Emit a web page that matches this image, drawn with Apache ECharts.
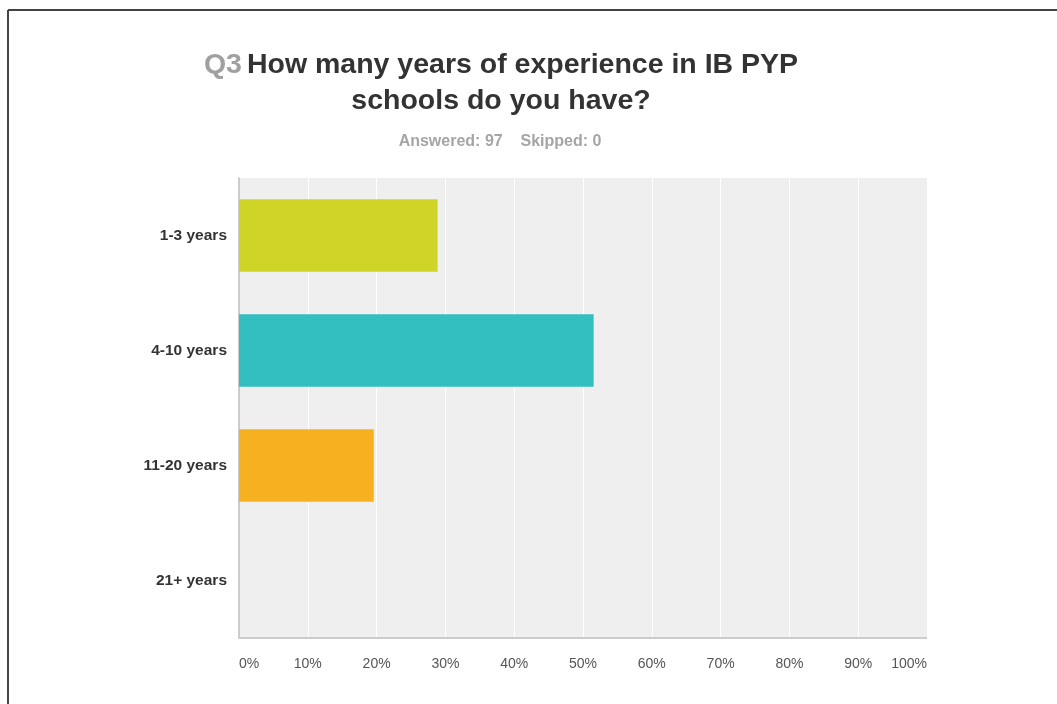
<!DOCTYPE html>
<html>
<head>
<meta charset="utf-8">
<style>
html,body{margin:0;padding:0;background:#fff;}
#chart{width:1057px;height:704px;}
</style>
<script src="https://cdn.jsdelivr.net/npm/echarts@6/dist/echarts.min.js"></script>
</head>
<body>
<div id="chart"></div>
<script>
var categories = ['1-3 years', '4-10 years', '11-20 years', '21+ years'];
var percentValues = [28.87, 51.55, 19.59, 0];
var barColors = ['#cfd427', '#33bebf', '#f7b01f', '#999999'];
var tickLabels = ['0%', '10%', '20%', '30%', '40%', '50%', '60%', '70%', '80%', '90%', '100%'];
var questionNo = 'Q3';
var titleLine1 = 'How many years of experience in IB PYP';
var titleLine2 = 'schools do you have?';
var subtitle = 'Answered: 97    Skipped: 0';

var chart = echarts.init(document.getElementById('chart'), null, {renderer: 'canvas'});
var font = 'Liberation Sans, Arial, sans-serif';

var option = {
  animation: false,
  backgroundColor: '#ffffff',
  title: [
    {
      text: '{q|' + questionNo + '} {t|' + titleLine1 + '}\n{t|' + titleLine2 + '}',
      left: 501,
      top: 47,
      padding: 0,
      textAlign: 'center',
      textStyle: {
        rich: {
          q: {fontFamily: font, fontSize: 28.5, fontWeight: 'bold', color: '#a0a0a0', lineHeight: 36},
          t: {fontFamily: font, fontSize: 28.5, fontWeight: 'bold', color: '#333333', lineHeight: 36}
        }
      }
    },
    {
      text: subtitle,
      left: 500,
      top: 134,
      padding: 0,
      textAlign: 'center',
      textStyle: {fontFamily: font, fontSize: 16, fontWeight: 'bold', color: '#a5a5a5'}
    }
  ],
  graphic: [
    {type: 'line', shape: {x1: 8, y1: 10, x2: 1057, y2: 10}, style: {stroke: '#444', lineWidth: 2}},
    {type: 'line', shape: {x1: 8, y1: 10, x2: 8, y2: 704}, style: {stroke: '#444', lineWidth: 2}}
  ],
  grid: {
    left: 239, top: 178, right: 130, bottom: 66,
    show: true, backgroundColor: '#efefef', borderWidth: 0
  },
  xAxis: {
    type: 'value',
    min: 0, max: 100, interval: 10,
    axisLine: {show: false},
    axisTick: {show: false},
    splitLine: {show: true, lineStyle: {color: '#ffffff', width: 1}},
    axisLabel: {
      margin: 19,
      fontFamily: font, fontSize: 14, color: '#555555',
      alignMinLabel: 'left', alignMaxLabel: 'right',
      formatter: function (v) { return tickLabels[Math.round(v / 10)]; }
    }
  },
  yAxis: {
    type: 'category',
    inverse: true,
    data: categories,
    axisLine: {show: true, lineStyle: {color: '#cccccc', width: 2}},
    axisTick: {show: false},
    axisLabel: {margin: 12, fontFamily: font, fontSize: 15.5, fontWeight: 'bold', color: '#333333'}
  },
  series: [
    {
      type: 'bar',
      barWidth: '63%',
      data: percentValues.map(function (v, i) { return {value: v, itemStyle: {color: barColors[i]}}; })
    },
    {
      type: 'line',
      silent: true, symbol: 'none',
      data: [],
      markLine: {
        silent: true, symbol: 'none', label: {show: false},
        lineStyle: {color: '#cccccc', width: 2, type: 'solid'},
        data: [[{x: 239, y: 638}, {x: 927, y: 638}]]
      }
    }
  ]
};
chart.setOption(option);
</script>
</body>
</html>
